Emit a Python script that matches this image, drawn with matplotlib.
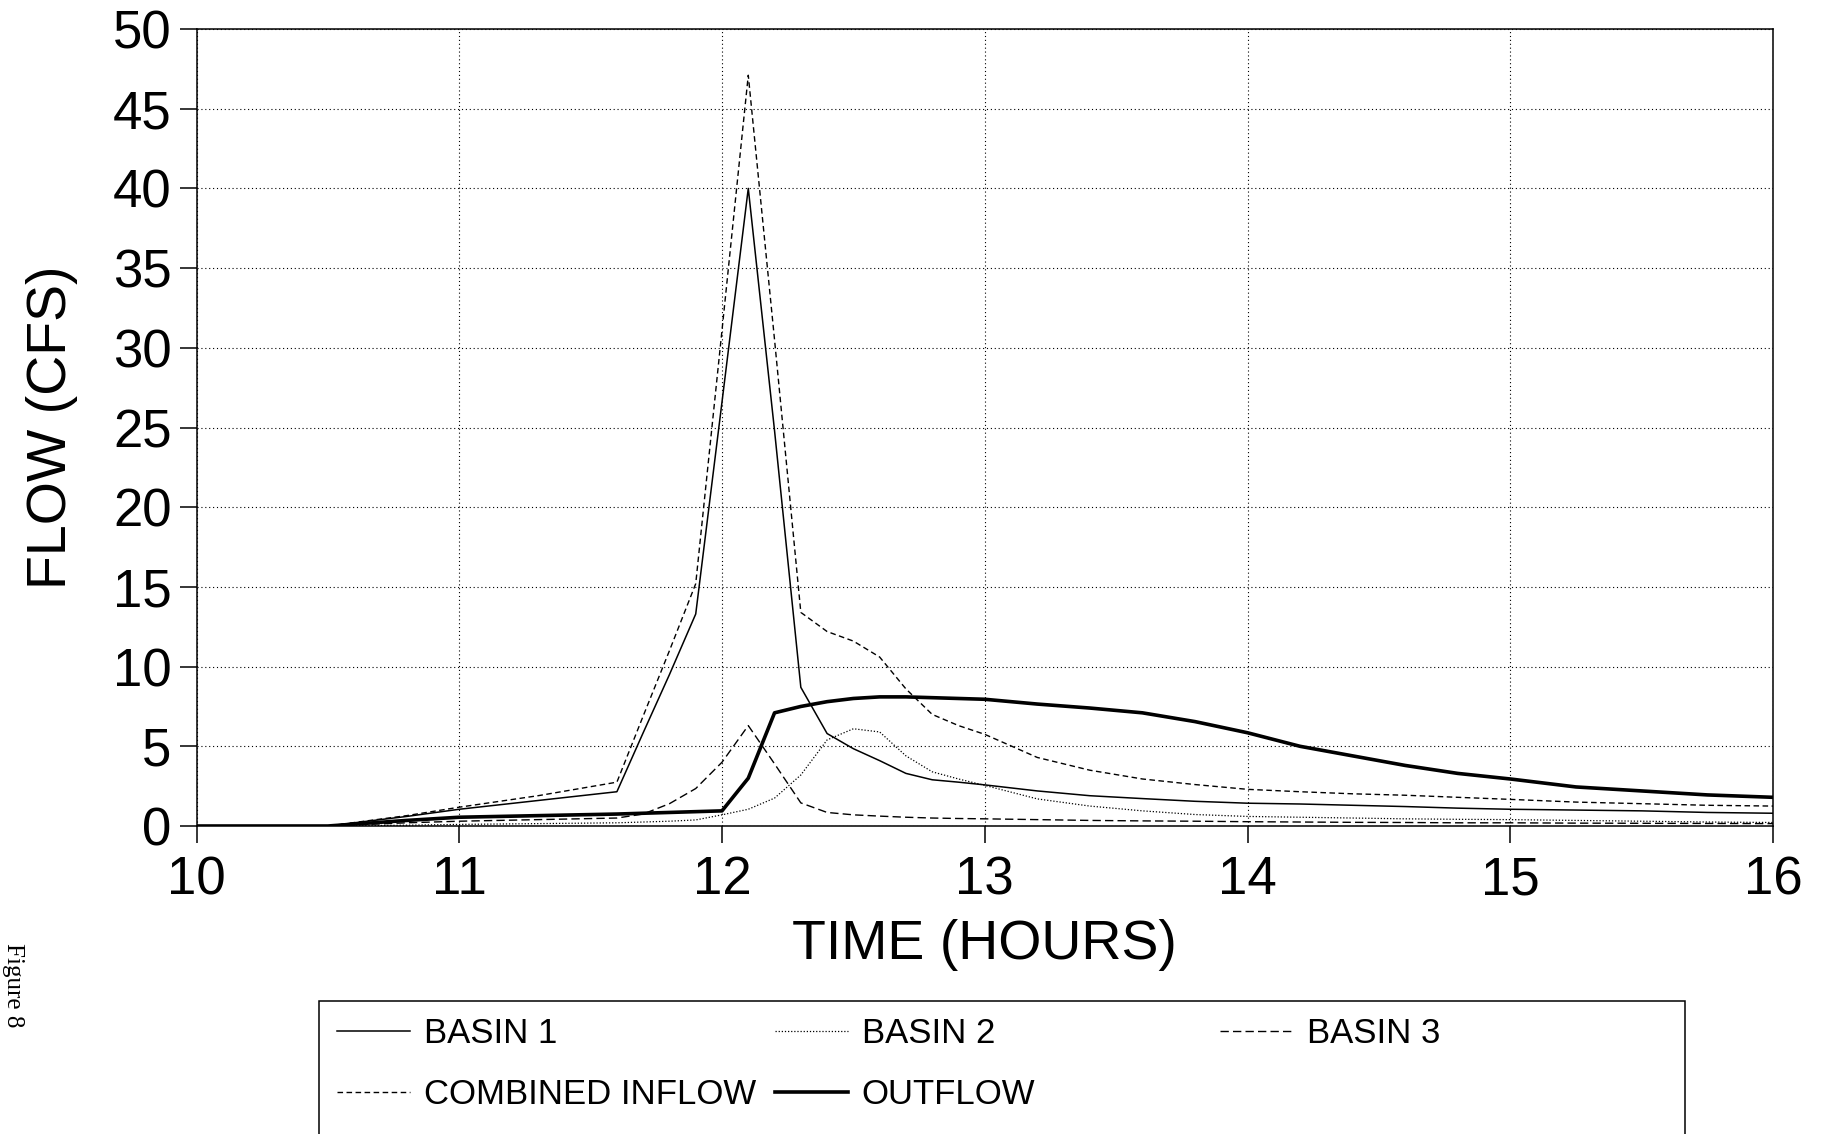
import matplotlib
matplotlib.use('Agg')
import matplotlib.pyplot as plt
from matplotlib.patches import Rectangle

plt.rcParams['font.family'] = ['Liberation Sans', 'DejaVu Sans']

# Tiempo (horas) e hidrogramas (CFS)
horas = [10.0, 10.5, 10.8, 11.0, 11.3, 11.6, 11.7, 11.8, 11.9, 12.0, 12.1, 12.2,
         12.3, 12.4, 12.5, 12.6, 12.7, 12.8, 12.9, 13.0, 13.2, 13.4, 13.6, 13.8,
         14.0, 14.2, 14.4, 14.6, 14.8, 15.0, 15.25, 15.5, 15.75, 16.0]

basin1 = [0, 0, 0.6, 1.05, 1.6, 2.15, 5.85, 9.5, 13.3, 26.6, 40.0, 24.8,
          8.7, 5.8, 4.85, 4.1, 3.3, 2.9, 2.75, 2.58, 2.2, 1.9, 1.72, 1.55,
          1.43, 1.38, 1.3, 1.22, 1.12, 1.05, 1.0, 0.95, 0.85, 0.8]

basin2 = [0, 0, 0.05, 0.1, 0.15, 0.2, 0.25, 0.3, 0.38, 0.7, 1.05, 1.75,
          3.2, 5.4, 6.1, 5.9, 4.4, 3.4, 2.95, 2.55, 1.7, 1.25, 0.95, 0.72,
          0.6, 0.55, 0.5, 0.45, 0.42, 0.4, 0.35, 0.3, 0.25, 0.22]

basin3 = [0, 0, 0.2, 0.3, 0.4, 0.5, 0.75, 1.4, 2.35, 4.0, 6.3, 3.9,
          1.45, 0.85, 0.7, 0.62, 0.55, 0.5, 0.47, 0.45, 0.4, 0.35, 0.32, 0.3,
          0.27, 0.25, 0.23, 0.22, 0.2, 0.2, 0.18, 0.17, 0.16, 0.15]

combined = [0, 0, 0.65, 1.18, 1.9, 2.75, 6.9, 11.0, 15.2, 31.1, 47.1, 30.5,
            13.4, 12.2, 11.6, 10.6, 8.6, 7.0, 6.3, 5.75, 4.3, 3.5, 2.95, 2.6,
            2.3, 2.15, 2.02, 1.93, 1.8, 1.67, 1.5, 1.4, 1.3, 1.25]

outflow = [0, 0, 0.35, 0.55, 0.65, 0.75, 0.8, 0.85, 0.9, 0.95, 3.0, 7.1,
           7.5, 7.8, 8.0, 8.1, 8.1, 8.05, 8.0, 7.95, 7.65, 7.4, 7.1, 6.55,
           5.85, 5.0, 4.4, 3.8, 3.3, 2.95, 2.45, 2.2, 1.95, 1.8]

W, H = 1834, 1134
fig = plt.figure(figsize=(W / 100, H / 100), dpi=100)
ax = fig.add_axes([196.5 / W, 308 / H, 1576.5 / W, 797 / H])

l1, = ax.plot(horas, basin1, color='black', lw=1.1, label='BASIN 1')
l2, = ax.plot(horas, basin2, color='black', lw=0.9, linestyle=(0, (1, 1.5)), label='BASIN 2')
l3, = ax.plot(horas, basin3, color='black', lw=1.0, linestyle=(0, (6, 3)), label='BASIN 3')
lc, = ax.plot(horas, combined, color='black', lw=1.0, linestyle=(0, (4, 2.5)), label='COMBINED INFLOW')
lo, = ax.plot(horas, outflow, color='black', lw=2.6, label='OUTFLOW')

ax.set_xlim(10, 16)
ax.set_ylim(0, 50)
ax.set_xticks(range(10, 17))
ax.set_yticks(range(0, 51, 5))
ax.tick_params(axis='both', direction='out', length=12, width=1.1, labelsize=38)
ax.tick_params(axis='y', pad=6)
ax.tick_params(axis='x', pad=9)
ax.grid(True, color='black', lw=0.8, linestyle=(0, (1, 2.5)))
for s in ax.spines.values():
    s.set_linewidth(1.1)

ax.set_xlabel('TIME (HOURS)', fontsize=40)
ax.xaxis.set_label_coords(0.5, -0.117)
ax.set_ylabel('FLOW (CFS)', fontsize=40)
ax.yaxis.set_label_coords(-0.075, 0.5)

# Leyenda en tres columnas fijas
ley = dict(loc='upper left', frameon=False, fontsize=25, handlelength=2.1,
           handletextpad=0.4, labelspacing=0.8, borderpad=0, borderaxespad=0)
y_ley = 1 - 1017 / H
fig.legend(handles=[l1, lc], bbox_to_anchor=(337 / W, y_ley), **ley)
fig.legend(handles=[l2, lo], bbox_to_anchor=(775 / W, y_ley), **ley)
fig.legend(handles=[l3], bbox_to_anchor=(1220 / W, y_ley), **ley)
fig.add_artist(Rectangle((319 / W, -0.05), (1685 - 319) / W, 133 / H + 0.05,
                         transform=fig.transFigure, fill=False, lw=1.1, ec='black'))

fig.text(2 / W, 1 - 985 / H, 'Figure 8', rotation=-90, ha='left', va='center',
         fontsize=18, family=['Liberation Serif', 'DejaVu Serif'])

fig.savefig('out.png', dpi=100)
